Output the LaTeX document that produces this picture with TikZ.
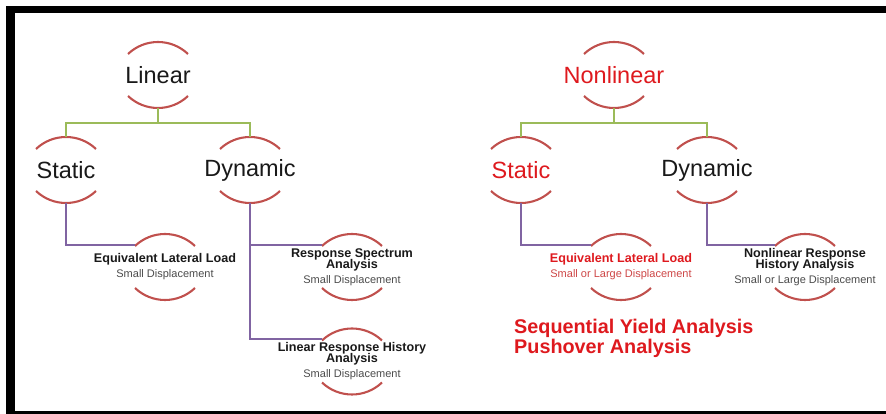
\documentclass[tikz,border=0pt]{standalone}
\usepackage{fontspec}
\setmainfont{Liberation Sans}
\usetikzlibrary{calc}
\definecolor{arcred}{RGB}{192,80,77}
\definecolor{lgreen}{RGB}{155,187,89}
\definecolor{lpurple}{RGB}{128,100,162}
\definecolor{tred}{RGB}{222,25,30}
\definecolor{sred}{RGB}{205,70,70}
\definecolor{sgray}{RGB}{75,75,75}
\definecolor{tblack}{RGB}{25,25,25}
\newcommand\tightlines{\lineskiplimit=-30pt\relax\lineskip=0pt\relax}
\newcommand\ringarcs[1]{%
  \draw[ringarc] ($(#1.center)+(-30,21)$) arc[start angle=133.6,end angle=46.4,radius=43.5];
  \draw[ringarc] ($(#1.center)+(-30,-21)$) arc[start angle=226.4,end angle=313.6,radius=43.5];
  \coordinate (#1-n) at ($(#1.center)+(0,33)$);
  \coordinate (#1-s) at ($(#1.center)+(0,-33)$);
  \coordinate (#1-w) at ($(#1.center)+(-30,22)$);
}
\begin{document}
\begin{tikzpicture}[x=1pt,y=1pt,
  ringarc/.style={draw=arcred,line width=2.1pt},
  gline/.style={draw=lgreen,line width=2pt},
  pline/.style={draw=lpurple,line width=2pt},
  mainlbl/.style={font=\fontsize{23.5}{28}\selectfont,text=tblack,inner sep=0pt},
  sublbl/.style={align=center,font=\fontsize{12.6}{11}\selectfont\bfseries\tightlines,text=tblack,inner sep=0pt},
  seqlbl/.style={align=left,font=\fontsize{19.8}{20}\selectfont\bfseries,text=tred,inner sep=0pt}]
\useasboundingbox (0,0) rectangle (886,414);
% frame
\fill[black] (6,401) rectangle (886,408);
\fill[black] (6,0) rectangle (15,408);
\fill[black] (15,0) rectangle (886,3);
% left tree
\node[mainlbl] (lin) at (158,339) {Linear};
\node[mainlbl] (lst) at (66,244) {Static};
\node[mainlbl] (ldy) at (250,244) {Dynamic};
\node[sublbl] (lell) at (165,147) {Equivalent Lateral Load\\[4pt]{\mdseries\fontsize{11}{11}\selectfont\color{sgray}Small Displacement}};
\node[sublbl] (lrsa) at (352,147) {Response Spectrum\\Analysis\\[4.5pt]{\mdseries\fontsize{11}{11}\selectfont\color{sgray}Small Displacement}};
\node[sublbl] (llrh) at (352,52.5) {Linear Response History\\Analysis\\[4pt]{\mdseries\fontsize{11}{11}\selectfont\color{sgray}Small Displacement}};
\ringarcs{lin}
\ringarcs{lst}
\ringarcs{ldy}
\ringarcs{lell}
\ringarcs{lrsa}
\ringarcs{llrh}
\coordinate (lbus) at (158,291);
\draw[gline] (lin-s) -- (lbus);
\draw[gline] (lst-n) |- (lbus) -| (ldy-n);
\draw[pline] (lst-s) |- (lell-w);
\draw[pline] (ldy-s) |- (llrh-w);
\draw[pline] (ldy-s |- lrsa-w) -- (lrsa-w);
% right tree
\node[mainlbl,text=tred] (rnl) at (614,339) {Nonlinear};
\node[mainlbl,text=tred] (rst) at (521,244) {Static};
\node[mainlbl] (rdy) at (707,244) {Dynamic};
\node[sublbl,text=tred] (rell) at (621,147) {Equivalent Lateral Load\\[4pt]{\mdseries\fontsize{11}{11}\selectfont\color{sred}Small or Large Displacement}};
\node[sublbl] (rnrh) at (805,147) {Nonlinear Response\\History Analysis\\[4.5pt]{\mdseries\fontsize{11}{11}\selectfont\color{sgray}Small or Large Displacement}};
\ringarcs{rnl}
\ringarcs{rst}
\ringarcs{rdy}
\ringarcs{rell}
\ringarcs{rnrh}
\coordinate (rbus) at (614,291);
\draw[gline] (rnl-s) -- (rbus);
\draw[gline] (rst-n) |- (rbus) -| (rdy-n);
\draw[pline] (rst-s) |- (rell-w);
\draw[pline] (rdy-s) |- (rnrh-w);
\node[seqlbl,anchor=west] (seq) at (514,76) {Sequential Yield Analysis\\Pushover Analysis};
\end{tikzpicture}
\end{document}
